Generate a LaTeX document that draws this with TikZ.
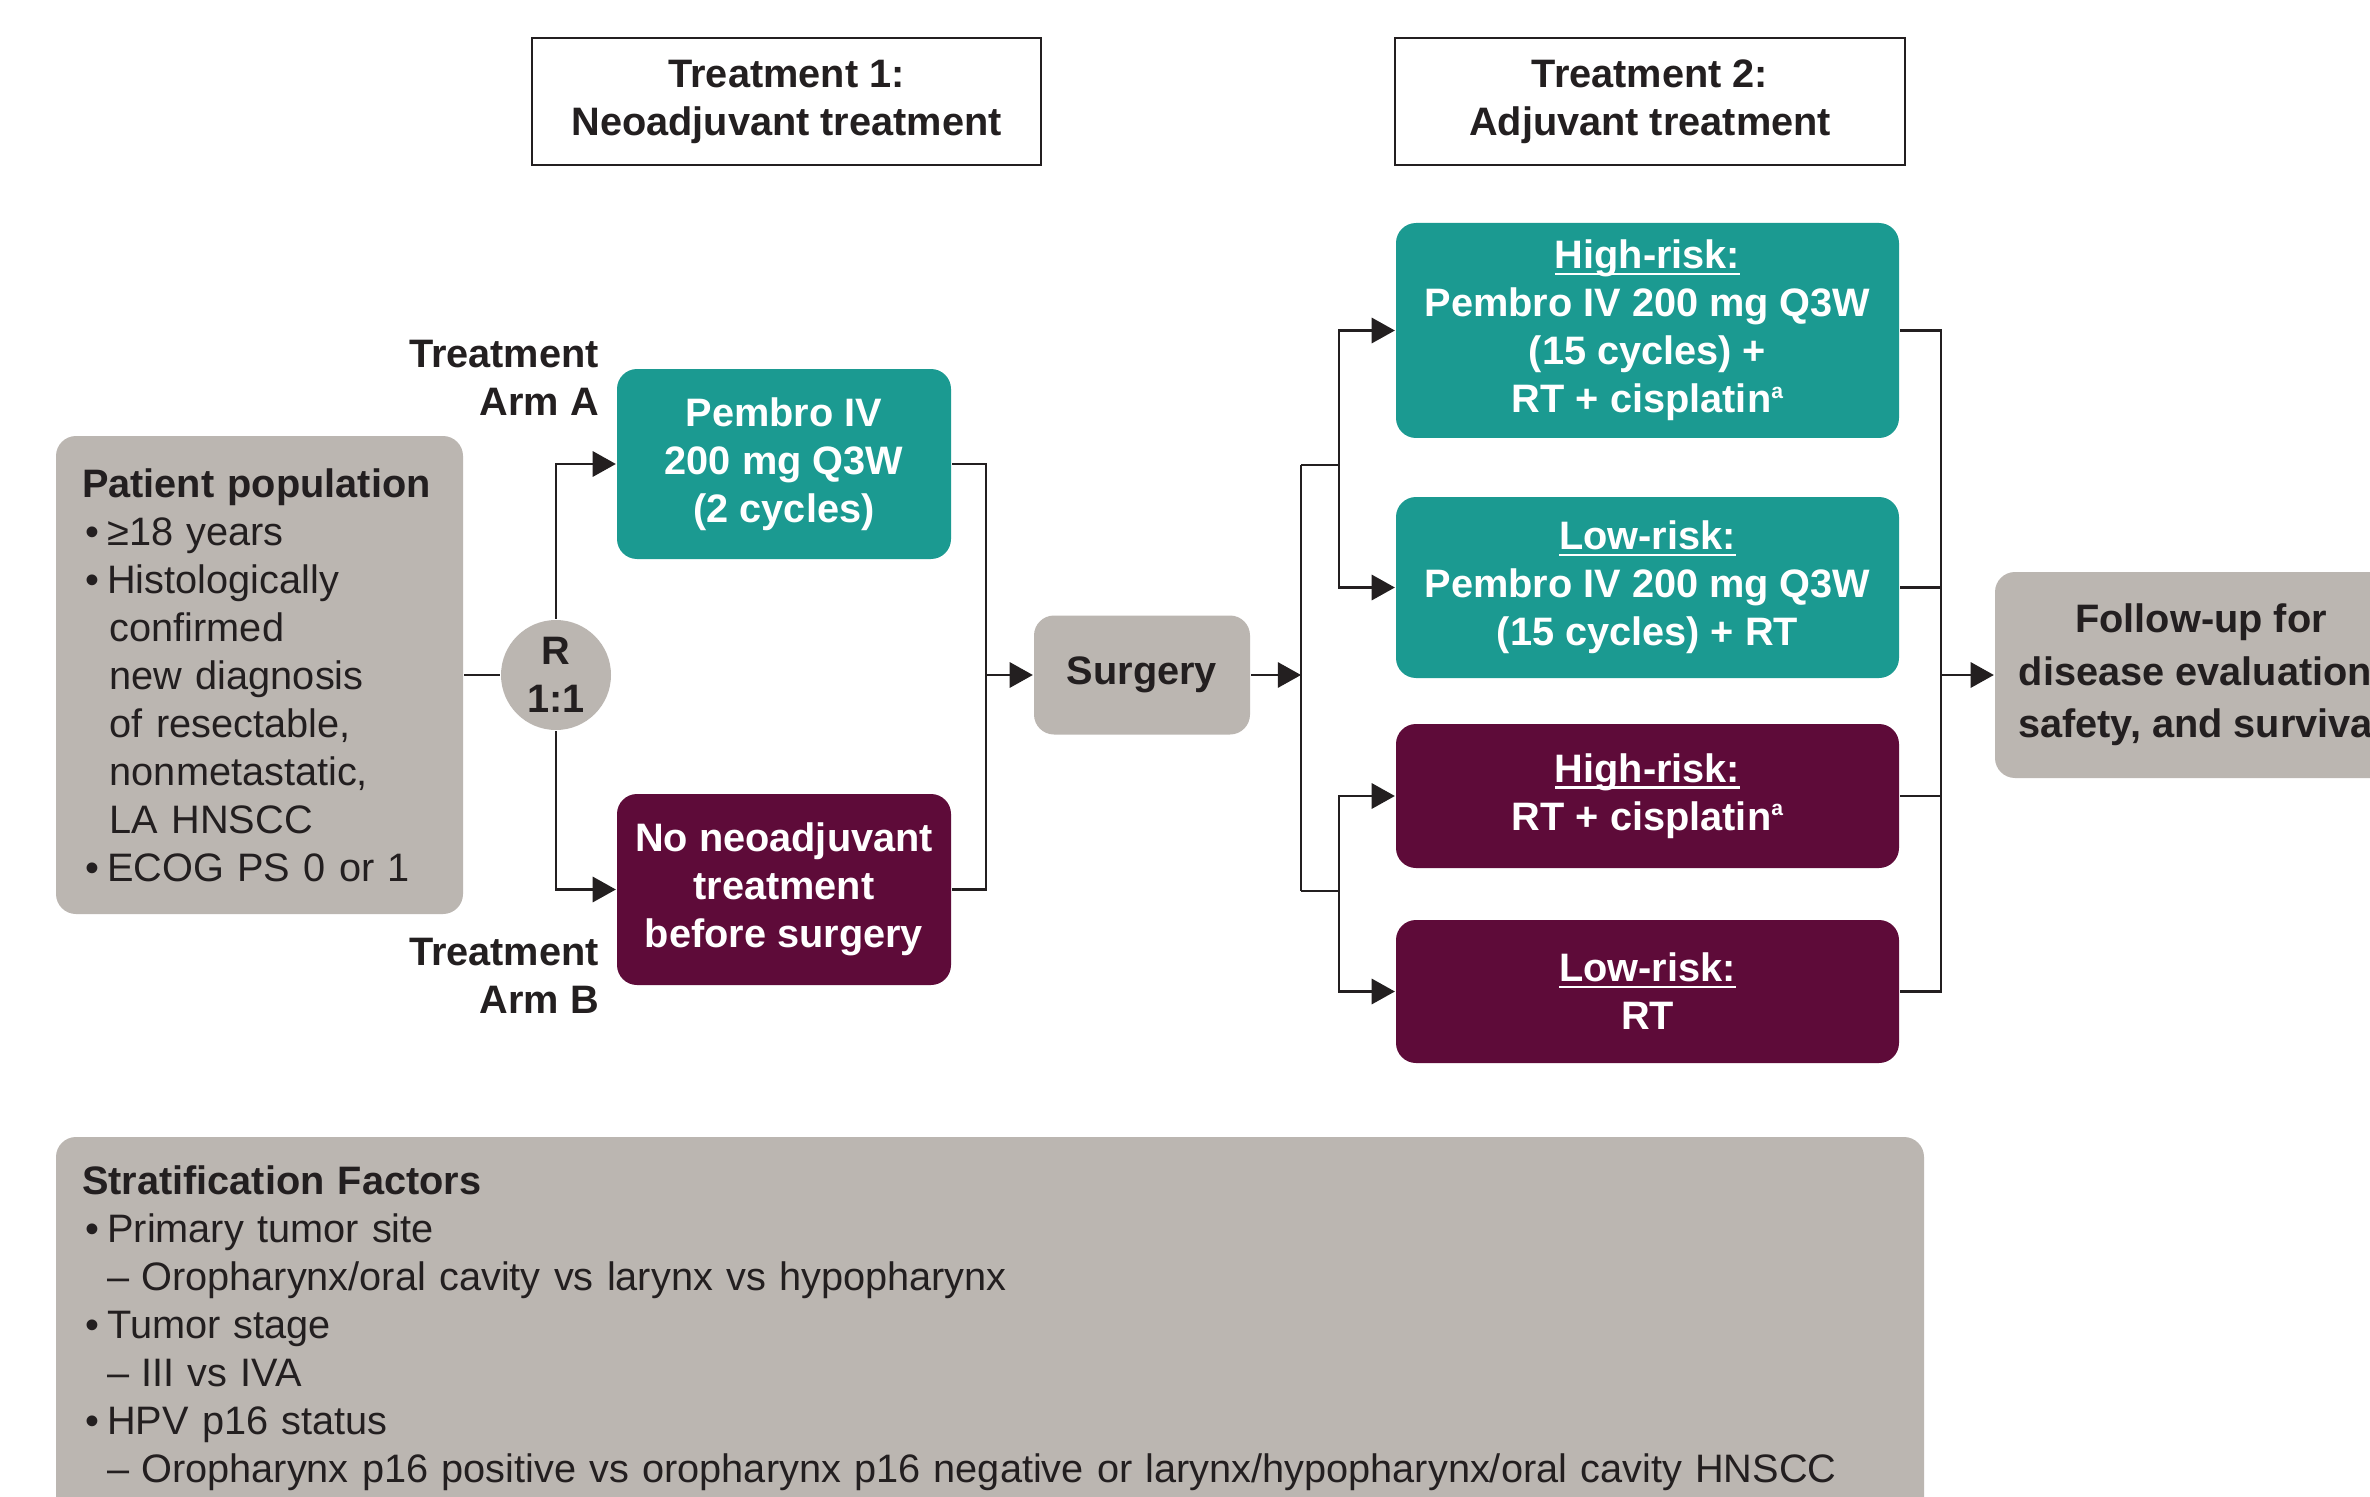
\documentclass[tikz,border=0pt]{standalone}
\usepackage{fontspec}
\setmainfont{Liberation Sans}
\usetikzlibrary{arrows.meta}
\definecolor{tealc}{HTML}{1B9A91}
\definecolor{maroonc}{HTML}{5E0B39}
\definecolor{grayc}{HTML}{BBB6B1}
\definecolor{ink}{HTML}{231F20}
\newcommand\ulin[1]{\setbox0\hbox{#1}\rlap{\rule[-1.8pt]{\wd0}{0.6pt}}\box0}
\newcommand\supa{\raisebox{4.2pt}{\fontsize{6}{6}\selectfont a}}
\newcommand\pbul{\hspace*{1pt}\makebox[6.2pt][l]{•}}
\newcommand\pind{\hspace*{7.9pt}}
\newcommand\pdash{\hspace*{7.2pt}\makebox[9.7pt][l]{–}}
\tikzset{
  base/.style={inner sep=0pt, align=center, text=ink, font=\fontsize{11.3}{13.66}\selectfont\bfseries},
  tbox/.style={base, fill=tealc, text=white, rounded corners=2mm},
  mbox/.style={base, fill=maroonc, text=white, rounded corners=2mm},
  gbox/.style={base, fill=grayc, rounded corners=2mm},
  hbox/.style={base, draw=ink, line width=0.75pt},
  arr/.style={-{Triangle[length=6.6pt,width=7.2pt]}},
}
\begin{document}
\begin{tikzpicture}[x=0.1mm, y=-0.1mm, line width=0.65pt, draw=ink]
\clip (0,0) rectangle (2370,1497);
\fill[white] (0,0) rectangle (2370,1497);

% header boxes
\node[hbox, minimum width=50.9mm, minimum height=12.7mm] (t1) at (786.5,101.5) {Treatment 1:\\Neoadjuvant treatment};
\node[hbox, minimum width=51mm, minimum height=12.7mm] (t2) at (1650,101.5) {Treatment 2:\\Adjuvant treatment};

% patient population
\node[gbox, font=\fontsize{11.3}{13.66}\selectfont, align=left, text width=35.5mm, minimum width=40.7mm, minimum height=47.8mm, inner xsep=2.6mm, inner ysep=0pt] (pat) at (259.5,675)
 {\textbf{Patient population}\\
  \pbul ≥18 years\\
  \pbul Histologically\\
  \pind confirmed\\
  \pind new diagnosis\\
  \pind of resectable,\\
  \pind nonmetastatic,\\
  \pind LA HNSCC\\
  \pbul ECOG PS 0 or 1};

% randomisation
\node[base, circle, fill=grayc, minimum size=11mm] (R) at (556,675) {R\\1:1};

% arm labels
\node[base, align=right, anchor=east] (la) at (600,378) {Treatment\\Arm A};
\node[base, align=right, anchor=east] (lb) at (600,975.5) {Treatment\\Arm B};

% neoadjuvant boxes
\node[tbox, minimum width=33.4mm, minimum height=19mm] (armA) at (784,464) {Pembro IV\\200 mg Q3W\\(2 cycles)};
\node[mbox, minimum width=33.4mm, minimum height=19.1mm] (armB) at (784,889.5) {No neoadjuvant\\treatment\\before surgery};

% surgery
\node[gbox, minimum width=21.6mm, minimum height=11.9mm] (surg) at (1142,675) {Surgery};

% adjuvant boxes
\node[tbox, minimum width=50.3mm, minimum height=21.5mm] (hrp) at (1647.5,330.5) {\ulin{High-risk:}\\Pembro IV 200 mg Q3W\\(15 cycles) +\\RT + cisplatin\supa};
\node[tbox, minimum width=50.3mm, minimum height=18.1mm] (lrp) at (1647.5,587.5) {\ulin{Low-risk:}\\Pembro IV 200 mg Q3W\\(15 cycles) + RT};
\node[mbox, minimum width=50.3mm, minimum height=14.4mm] (hrr) at (1647.5,796) {\ulin{High-risk:}\\RT + cisplatin\supa};
\node[mbox, minimum width=50.3mm, minimum height=14.3mm] (lrr) at (1647.5,991.5) {\ulin{Low-risk:}\\RT};

% follow-up
\node[gbox, font=\fontsize{11.3}{15}\selectfont\bfseries, minimum width=41.2mm, minimum height=20.6mm] (fu) at (2201,675) {Follow-up for\\disease evaluation,\\safety, and survival};

% stratification
\node[gbox, font=\fontsize{11.3}{13.66}\selectfont, align=left, text width=181.6mm, minimum width=186.8mm, minimum height=38.2mm, inner xsep=2.6mm, inner ysep=0pt] (strat) at (990,1328)
 {\textbf{Stratification Factors}\\
  \pbul Primary tumor site\\
  \pdash Oropharynx/oral cavity vs larynx vs hypopharynx\\
  \pbul Tumor stage\\
  \pdash III vs IVA\\
  \pbul HPV p16 status\\
  \pdash Oropharynx p16 positive vs oropharynx p16 negative or larynx/hypopharynx/oral cavity HNSCC};

% connectors
\draw (pat) -- (R);
\draw[arr] (R.north) |- (armA.west);
\draw[arr] (R.south) |- (armB.west);
\coordinate (m1) at (986,675);
\draw (armA.east) -| (m1);
\draw (armB.east) -| (m1);
\draw[arr] (m1) -- (surg.west);
\coordinate (s1) at (1301,675);
\draw[arr] (surg.east) -- (s1);
\coordinate (sa) at (1301,465);
\coordinate (sb) at (1301,891);
\coordinate (ta) at (1339,465);
\coordinate (tb) at (1339,891);
\draw (sa) -- (sb);
\draw (sa) -- (ta);
\draw (sb) -- (tb);
\draw[arr] (ta) |- (hrp.west);
\draw[arr] (ta) |- (lrp.west);
\draw[arr] (tb) |- (hrr.west);
\draw[arr] (tb) |- (lrr.west);
\coordinate (f1) at (1941,675);
\draw (hrp.east) -| (f1);
\draw (lrp.east) -| (f1);
\draw (hrr.east) -| (f1);
\draw (lrr.east) -| (f1);
\draw[arr] (f1) -- (fu.west);
\end{tikzpicture}
\end{document}
